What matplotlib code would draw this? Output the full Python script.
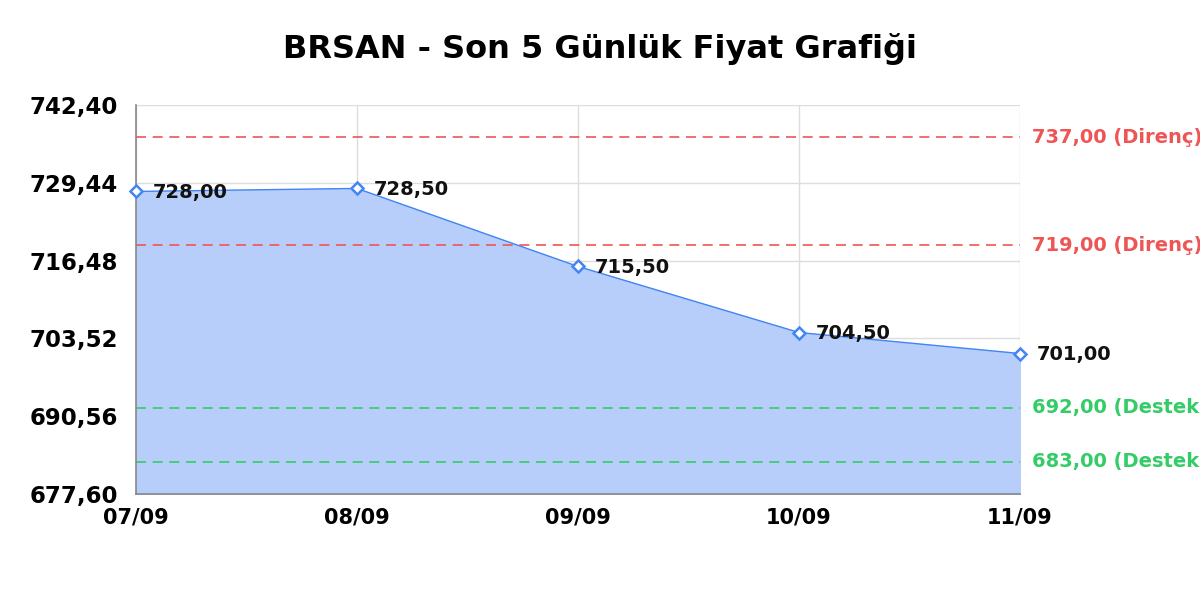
import numpy as np
import matplotlib
matplotlib.use("Agg")
import matplotlib.pyplot as plt

plt.rcParams["font.family"] = ["DejaVu Sans"]

# Data
dates = ["07/09", "08/09", "09/09", "10/09", "11/09"]
prices = [728.00, 728.50, 715.50, 704.50, 701.00]
resistance = [737.00, 719.00]
support = [692.00, 683.00]
y_min, y_max = 677.60, 742.40

line_color = "#4285f4"
fill_color = "#b7cefa"
red = "#ee5555"
green = "#33cc66"


def tr(v):
    return f"{v:.2f}".replace(".", ",")


fig = plt.figure(figsize=(12, 6), dpi=100)
ax = fig.add_axes([0.1133, 0.1767, 0.7367, 0.6483])

x = np.arange(len(dates))
ax.fill_between(x, prices, y_min, color=fill_color, zorder=1)
ax.plot(x, prices, color=line_color, lw=1.0, zorder=3)
ax.plot(x, prices, ls="none", marker="D", ms=6.5, mfc="white",
        mec=line_color, mew=1.8, zorder=4, clip_on=False)

for xi, p in zip(x, prices):
    ax.annotate(tr(p), (xi, p), xytext=(12, -1), textcoords="offset points",
                va="center", ha="left", fontsize=14, fontweight="bold",
                color="#111111", zorder=5, annotation_clip=False)

for lvl in resistance:
    ax.axhline(lvl, color=red, ls=(0, (6, 4)), lw=1.2, zorder=2)
    ax.annotate(f"{tr(lvl)} (Direnç)", (1, lvl), xycoords=("axes fraction", "data"),
                xytext=(9, 0), textcoords="offset points", va="center",
                color=red, fontsize=14, fontweight="bold", annotation_clip=False)
for lvl in support:
    ax.axhline(lvl, color=green, ls=(0, (6, 4)), lw=1.2, zorder=2)
    ax.annotate(f"{tr(lvl)} (Destek)", (1, lvl), xycoords=("axes fraction", "data"),
                xytext=(9, 0), textcoords="offset points", va="center",
                color=green, fontsize=14, fontweight="bold", annotation_clip=False)

ax.set_xlim(0, len(dates) - 1)
ax.set_ylim(y_min, y_max)
yt = np.linspace(y_min, y_max, 6)
ax.set_yticks(yt)
ax.set_yticklabels([tr(v) for v in yt], fontsize=16.5, fontweight="bold")
ax.set_xticks(x)
ax.set_xticklabels(dates, fontsize=15, fontweight="bold")
ax.tick_params(length=0)
ax.tick_params(axis="x", pad=10)
ax.tick_params(axis="y", pad=13)

ax.grid(True, color="#dddddd", lw=1, zorder=0)
ax.set_axisbelow(True)
for s in ["top", "right"]:
    ax.spines[s].set_visible(False)
for s in ["left", "bottom"]:
    ax.spines[s].set_color("#888888")
    ax.spines[s].set_linewidth(1.2)

fig.suptitle("BRSAN - Son 5 Günlük Fiyat Grafiği", x=0.5, y=0.918,
             fontsize=23, fontweight="bold", va="center")

fig.savefig("out.png", dpi=100, facecolor="white")
